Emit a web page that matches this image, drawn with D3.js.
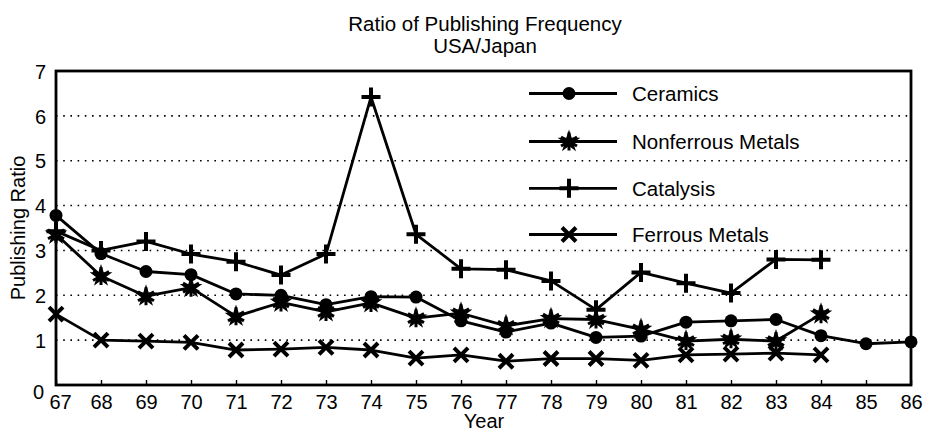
<!DOCTYPE html>
<html>
<head>
<meta charset="utf-8">
<script src="https://cdn.jsdelivr.net/npm/d3@7"></script>
<style>
  html, body { margin: 0; padding: 0; background: #fff; }
  svg { display: block; }
  text { font-family: "Liberation Sans", Arial, Helvetica, sans-serif; fill: #000; }
</style>
</head>
<body>
<svg id="chart" width="927" height="433"></svg>
<script>
// ---- data ----
const years = [67, 68, 69, 70, 71, 72, 73, 74, 75, 76, 77, 78, 79, 80, 81, 82, 83, 84, 85, 86];
const ceramics   = [3.78, 2.93, 2.53, 2.46, 2.03, 2.0, 1.79, 1.97, 1.96, 1.43, 1.18, 1.38, 1.06, 1.09, 1.40, 1.43, 1.46, 1.10, 0.92, 0.96];
const nonferrous = [3.36, 2.43, 1.98, 2.17, 1.53, 1.84, 1.63, 1.83, 1.49, 1.60, 1.32, 1.48, 1.46, 1.24, 0.98, 1.02, 0.98, 1.58];
const catalysis  = [3.43, 3.00, 3.20, 2.92, 2.75, 2.45, 2.92, 6.42, 3.36, 2.59, 2.57, 2.32, 1.68, 2.51, 2.27, 2.05, 2.80, 2.79];
const ferrous    = [1.58, 1.00, 0.98, 0.95, 0.78, 0.80, 0.84, 0.78, 0.60, 0.67, 0.53, 0.59, 0.59, 0.55, 0.67, 0.69, 0.71, 0.67];
const seriesNames = ["Ceramics", "Nonferrous Metals", "Catalysis", "Ferrous Metals"];
const markerTypes = ["circle", "star", "plus", "cross"];
const yTicks = [0, 1, 2, 3, 4, 5, 6, 7];
const gridValues = [1, 2, 3, 4, 5, 6];
const titleLines = ["Ratio of Publishing Frequency", "USA/Japan"];
const xTitle = "Year";
const yTitle = "Publishing Ratio";

// ---- layout ----
const svg = d3.select("#chart");
const pLeft = 56, pRight = 911, pTop = 71, pBottom = 385;
const x = d3.scaleLinear().domain([67, 86]).range([pLeft, pRight]);
const y = d3.scaleLinear().domain([0, 7]).range([pBottom, pTop]);

// gridlines
svg.append("g").selectAll("line").data(gridValues).join("line")
  .attr("x1", pLeft).attr("x2", pRight)
  .attr("y1", d => y(d)).attr("y2", d => y(d))
  .attr("stroke", "#000").attr("stroke-width", 1.6)
  .attr("stroke-dasharray", "1.6,5.6");

// frame
svg.append("rect").attr("x", pLeft).attr("y", pTop)
  .attr("width", pRight - pLeft).attr("height", pBottom - pTop)
  .attr("fill", "none").attr("stroke", "#000").attr("stroke-width", 2.8);

// x axis (ticks inward)
const xAxis = d3.axisBottom(x).tickValues(years).tickSize(-5).tickFormat(d3.format("d"));
const gx = svg.append("g").attr("transform", `translate(0,${pBottom})`).call(xAxis);
gx.select(".domain").remove();
gx.selectAll(".tick line").attr("stroke", "#000").attr("stroke-width", 1.4);
gx.selectAll(".tick text").attr("font-size", 20).attr("dy", "0")
  .attr("y", 24)
  .attr("x", d => d === 67 ? 4 : 0);

// y axis
const yAxis = d3.axisLeft(y).tickValues(yTicks).tickSize(0).tickFormat(d3.format("d"));
const gy = svg.append("g").attr("transform", `translate(${pLeft},0)`).call(yAxis);
gy.select(".domain").remove();
gy.selectAll(".tick text").attr("font-size", 20).attr("x", d => d === 0 ? -12 : -10)
  .attr("dy", d => d === 0 ? "0" : "0.36em")
  .attr("y", d => d === 0 ? 13 : 0);

// titles
svg.append("g").selectAll("text").data(titleLines).join("text")
  .attr("x", 485).attr("y", (d, i) => 30.5 + i * 22.5)
  .attr("text-anchor", "middle").attr("font-size", 20.5).text(d => d);
svg.append("text").attr("x", 484).attr("y", 428).attr("text-anchor", "middle")
  .attr("font-size", 20).text(xTitle);
svg.append("text").attr("transform", `translate(25,${(pTop + pBottom) / 2}) rotate(-90)`)
  .attr("text-anchor", "middle").attr("font-size", 20).text(yTitle);

// marker drawing
function drawMarker(g, type, cx, cy) {
  if (type === "circle") {
    g.append("circle").attr("cx", cx).attr("cy", cy).attr("r", 6.5).attr("fill", "#000");
  } else if (type === "plus") {
    const s = 9.5;
    g.append("path").attr("d", `M${cx - s},${cy}H${cx + s}M${cx},${cy - s}V${cy + s}`)
      .attr("stroke", "#000").attr("stroke-width", 4).attr("fill", "none");
  } else if (type === "cross") {
    const s = 7;
    g.append("path").attr("d", `M${cx - s},${cy - s}L${cx + s},${cy + s}M${cx - s},${cy + s}L${cx + s},${cy - s}`)
      .attr("stroke", "#000").attr("stroke-width", 4).attr("fill", "none");
  } else if (type === "star") {
    g.append("path").attr("d", d3.symbol().type(d3.symbolStar).size(160)())
      .attr("transform", `translate(${cx},${cy})`).attr("fill", "#000");
    g.append("path").attr("d", `M${cx},${cy - 9}V${cy + 9}M${cx - 8},${cy - 4.5}L${cx + 8},${cy + 4.5}M${cx - 8},${cy + 4.5}L${cx + 8},${cy - 4.5}`)
      .attr("stroke", "#000").attr("stroke-width", 3).attr("fill", "none");
  }
}

const allSeries = [ceramics, nonferrous, catalysis, ferrous];
const line = d3.line().x(d => x(d[0])).y(d => y(d[1]));
allSeries.forEach((vals, i) => {
  const pts = vals.map((v, j) => [years[j], v]);
  const g = svg.append("g");
  g.append("path").attr("d", line(pts)).attr("fill", "none")
    .attr("stroke", "#000").attr("stroke-width", 2.8).attr("stroke-linejoin", "round");
  pts.forEach(p => drawMarker(g, markerTypes[i], x(p[0]), y(p[1])));
});

// legend
const legY = [93.5, 141.5, 188.3, 234.5];
seriesNames.forEach((name, i) => {
  const g = svg.append("g");
  g.append("line").attr("x1", 529).attr("x2", 617).attr("y1", legY[i]).attr("y2", legY[i])
    .attr("stroke", "#000").attr("stroke-width", 2.8);
  drawMarker(g, markerTypes[i], 569, legY[i]);
  g.append("text").attr("x", 632).attr("y", legY[i]).attr("dy", "0.36em")
    .attr("font-size", 20.5).text(name);
});
</script>
</body>
</html>
